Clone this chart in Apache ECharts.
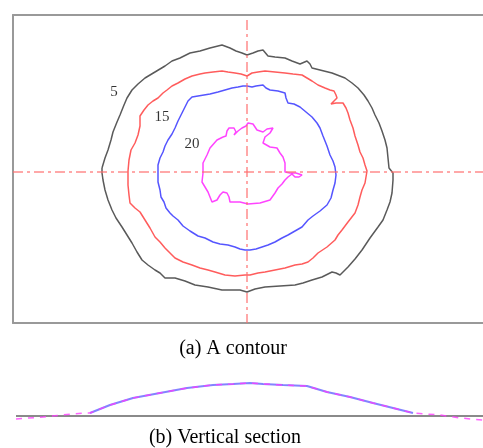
<!DOCTYPE html>
<html>
<head>
<meta charset="utf-8">
<script src="https://cdn.jsdelivr.net/npm/echarts@6/dist/echarts.min.js"></script>
<style>html,body{margin:0;padding:0;background:#fff}#c{width:483px;height:448px}</style>
</head>
<body>
<div id="c"></div>
<script>
// Contour outlines (x, y offsets from the section centre)
const contour5 = [[-145,4],[-142,14],[-139,22],[-136,32],[-134,40],[-130,50],[-127,57],[-123,67],[-120,74],[-115,82],[-109,88],[-102,94],[-92,100],[-82,106],[-75,111],[-67,114],[-57,119],[-47,121],[-37,124],[-29,126],[-25,127],[-17,124],[-11,121],[-5,119],[0,117],[6,119],[11,121],[16,122],[21,116],[28,115],[38,114],[45,111],[53,108],[60,111],[63,108],[65,104],[73,102],[85,99],[98,94],[105,89],[111,84],[117,77],[121,71],[125,64],[128,57],[132,49],[135,41],[138,32],[140,24],[141,14],[142,4],[146,-1],[146,-8],[145,-21],[143,-30],[140,-38],[136,-48],[131,-55],[123,-66],[115,-78],[108,-87],[101,-95],[96,-100],[93,-103],[89,-101],[85,-100],[75,-105],[65,-108],[56,-111],[48,-113],[33,-114],[18,-115],[8,-117],[0,-120],[-7,-118],[-25,-118],[-39,-115],[-52,-113],[-62,-109],[-72,-106],[-82,-106],[-87,-101],[-92,-98],[-99,-93],[-105,-88],[-110,-80],[-115,-71],[-120,-63],[-125,-55],[-131,-46],[-135,-38],[-139,-28],[-142,-18],[-144,-8],[-145,-1],[-145,4]];
const contour10 = [[-119,1],[-118,12],[-116,22],[-112,29],[-109,37],[-107,46],[-107,56],[-103,62],[-99,67],[-94,71],[-89,74],[-84,79],[-80,82],[-75,86],[-69,89],[-62,93],[-55,96],[-47,98],[-42,99],[-34,100],[-25,101],[-19,100],[-12,99],[-6,98],[0,96],[5,99],[11,100],[18,101],[28,100],[38,99],[46,98],[55,97],[60,94],[65,91],[71,87],[78,84],[83,82],[87,81],[89,77],[90,74],[87,71],[84,68],[89,69],[96,69],[99,64],[101,59],[103,52],[106,44],[108,36],[111,27],[113,20],[116,14],[118,7],[120,1],[119,-5],[118,-11],[115,-18],[113,-25],[111,-33],[108,-41],[101,-50],[95,-58],[91,-63],[88,-68],[80,-75],[71,-81],[66,-86],[61,-90],[55,-92],[48,-93],[38,-96],[28,-98],[18,-100],[11,-101],[3,-103],[-2,-103],[-12,-104],[-22,-103],[-32,-100],[-39,-98],[-47,-96],[-55,-93],[-64,-90],[-72,-86],[-77,-81],[-82,-76],[-87,-70],[-92,-65],[-97,-56],[-102,-48],[-107,-40],[-112,-36],[-117,-31],[-118,-23],[-119,-13],[-119,1]];
const contour15 = [[-89,1],[-89,7],[-87,14],[-84,20],[-82,26],[-79,32],[-75,38],[-72,44],[-69,51],[-66,57],[-63,63],[-59,71],[-55,75],[-49,76],[-43,77],[-37,78],[-29,80],[-22,82],[-15,84],[-9,85],[-4,86],[0,86],[5,85],[9,86],[16,87],[19,84],[23,82],[31,81],[38,79],[39,74],[41,69],[47,68],[53,65],[59,60],[65,55],[70,49],[73,44],[76,36],[80,26],[83,17],[86,11],[88,5],[89,-3],[88,-11],[86,-18],[84,-26],[80,-33],[73,-39],[66,-44],[61,-48],[55,-55],[48,-59],[41,-63],[35,-66],[28,-70],[21,-73],[15,-75],[9,-77],[3,-78],[-2,-78],[-7,-77],[-12,-75],[-19,-73],[-27,-72],[-34,-70],[-42,-66],[-49,-64],[-57,-59],[-64,-54],[-69,-48],[-74,-44],[-77,-41],[-81,-36],[-83,-30],[-86,-25],[-87,-18],[-89,-10],[-89,1]];
const contour20 = [[-24,35],[-21,36],[-20,41],[-18,44],[-13,44],[-11,40],[-13,37],[-9,41],[-5,44],[-1,46],[1,49],[6,48],[8,45],[10,42],[16,40],[20,43],[26,44],[23,39],[18,35],[16,29],[23,25],[30,24],[33,19],[36,15],[38,9],[38,0],[43,-1],[49,-1],[55,-3],[52,-5],[48,-5],[45,-2],[41,-5],[38,-8],[35,-12],[31,-16],[28,-21],[23,-28],[13,-31],[1,-32],[-7,-30],[-17,-30],[-18,-25],[-20,-21],[-24,-20],[-27,-23],[-30,-28],[-35,-30],[-37,-25],[-39,-20],[-42,-15],[-45,-10],[-44,-1],[-44,9],[-40,17],[-37,24],[-30,32],[-24,35]];
// Contour level labels
const levelNames = ['5', '15', '20'];
const levelLabelAt = [[-133,80],[-85,55],[-55,28]];
// Centre lines
const hAxisLine = [[-234,0],[236,0]];
const vAxisLine = [[0,152],[0,-151]];
// Vertical section profile (x offset, height)
const sectionX = [-231,-204,-175,-160,-157,-137,-114,-87,-60,-34,-14,3,16,36,60,80,103,126,146,166,193,213,236];
const sectionH = [-3,-1,2,3,3,11,18,23,28,31,32,33,32,31,30,24,19,13,8,3,1,-2,-4];
const sectionBlueFrom = -157, sectionBlueTo = 166;
const baseline = [[-231,0],[236,0]];

const sectionAll = sectionX.map((x,i)=>[x, sectionH[i]]);
const sectionBlue = sectionAll.filter(p=>p[0]>=sectionBlueFrom && p[0]<=sectionBlueTo);

const chart = echarts.init(document.getElementById('c'), null, {renderer:'canvas'});
const dashDot = [10,4,3,4];
const lineS = (data, color, width, xi, yi, extra) => Object.assign({
  type:'line', data, xAxisIndex:xi, yAxisIndex:yi, symbol:'none', smooth:false,
  silent:true, animation:false,
  lineStyle:{color, width}
}, extra||{});
const frameAxis = {show:true, axisLine:{show:true, onZero:false, lineStyle:{color:'#999', width:2}}, axisTick:{show:false}, axisLabel:{show:false}, splitLine:{show:false}};

chart.setOption({
  animation:false,
  backgroundColor:'#fff',
  grid:[
    {left:13, top:15, width:470, height:308, show:false},
    {left:13, top:380, width:470, height:46, show:false}
  ],
  xAxis:[
    Object.assign({type:'value', min:-234, max:236, gridIndex:0, position:'bottom'}, frameAxis),
    {type:'value', min:-234, max:236, gridIndex:1, show:false},
    Object.assign({type:'value', min:-234, max:236, gridIndex:0, position:'top'}, frameAxis)
  ],
  yAxis:[
    Object.assign({type:'value', min:-151, max:157, gridIndex:0, position:'left'}, frameAxis),
    {type:'value', min:-10, max:36, gridIndex:1, show:false}
  ],
  series:[
    lineS(contour5, '#5a5a5a', 1.5, 0, 0),
    lineS(contour10, '#ff5c5c', 1.5, 0, 0),
    lineS(contour15, '#5555ff', 1.5, 0, 0),
    lineS(contour20, '#ff44ff', 1.5, 0, 0),
    lineS(hAxisLine, '', 2, 0, 0, {lineStyle:{color:'rgba(255,110,110,0.6)', width:2, type:dashDot}}),
    lineS(vAxisLine, '', 2, 0, 0, {lineStyle:{color:'rgba(255,110,110,0.6)', width:2, type:dashDot}}),
    {
      type:'scatter', xAxisIndex:0, yAxisIndex:0, symbolSize:0, silent:true, animation:false,
      data: levelLabelAt.map((p,i)=>({value:p, name:levelNames[i]})),
      label:{show:true, position:'inside', formatter:'{b}', color:'#000', fontFamily:'Liberation Serif', fontSize:15}
    },
    lineS(baseline, '#8a8a8a', 2, 1, 1),
    lineS(sectionBlue, 'rgba(100,100,255,0.8)', 2.2, 1, 1),
    lineS(sectionAll, '', 1.5, 1, 1, {lineStyle:{color:'rgba(255,60,255,0.8)', width:1.5, type:[6,6]}})
  ],
  graphic:[
    {type:'text', x:233, y:349, style:{text:'(a) A contour', font:'20px "Liberation Serif"', fill:'#000', textAlign:'center', textVerticalAlign:'middle'}, silent:true},
    {type:'text', x:225, y:438, style:{text:'(b) Vertical section', font:'20px "Liberation Serif"', fill:'#000', textAlign:'center', textVerticalAlign:'middle'}, silent:true}
  ]
});
</script>
</body>
</html>
